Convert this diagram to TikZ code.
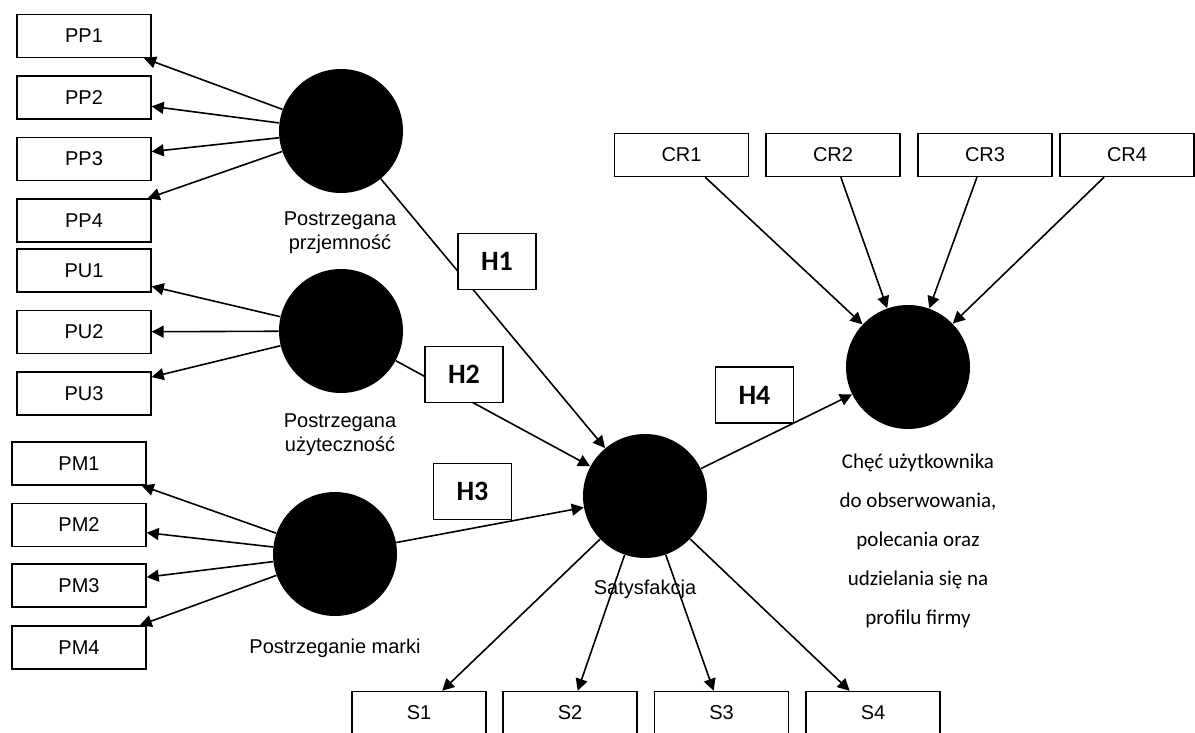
\documentclass[tikz,border=0pt]{standalone}
\usepackage{fontspec}
\setmainfont{Liberation Sans}
\newfontfamily\carlito{Carlito}
\usetikzlibrary{arrows.meta}

\begin{document}
\begin{tikzpicture}[x=0.5pt,y=-0.5pt,
    ind/.style={draw=black,line width=0.7pt,minimum width=67pt,minimum height=21.5pt,inner sep=0pt,font=\fontsize{10}{12}\selectfont},
    lat/.style={circle,fill=black,minimum size=62pt,inner sep=0pt},
    hyp/.style={draw=black,fill=white,line width=0.7pt,minimum width=39pt,minimum height=28pt,inner sep=0pt,font=\carlito\bfseries\fontsize{14}{16}\selectfont},
    lbl/.style={align=center,font=\fontsize{10}{12}\selectfont},
    arr/.style={line width=0.8pt,-{Triangle[length=6pt,width=6pt]}}]
      \useasboundingbox (0,0) rectangle (1195,733);

      % indicators
      \node[ind] (pp1) at (84,36){PP1};
      \node[ind] (pp2) at (84,97.5){PP2};
      \node[ind] (pp3) at (84,159){PP3};
      \node[ind] (pp4) at (84,220.5){PP4};
      \node[ind] (pu1) at (84,270.5){PU1};
      \node[ind] (pu2) at (84,332){PU2};
      \node[ind] (pu3) at (84,393.5){PU3};
      \node[ind] (pm1) at (79,463.5){PM1};
      \node[ind] (pm2) at (79,525){PM2};
      \node[ind] (pm3) at (79,585.5){PM3};
      \node[ind] (pm4) at (79,647.5){PM4};
      \node[ind] (cr1) at (681.5,155){CR1};
      \node[ind] (cr2) at (833,155){CR2};
      \node[ind] (cr3) at (985,155){CR3};
      \node[ind] (cr4) at (1127,155){CR4};
      \node[ind] (s1) at (419,713){S1};
      \node[ind] (s2) at (570,713){S2};
      \node[ind] (s3) at (721.5,713){S3};
      \node[ind] (s4) at (873,713){S4};

      % constructs
      \node[lat] (pp) at (341,131){};
      \node[lat] (pu) at (341,331){};
      \node[lat] (pm) at (335,554){};
      \node[lat] (sat) at (645,496){};
      \node[lat] (cr) at (908,367){};

      \node[lbl] (ppl) at (340,233){Postrzegana\\przjemność};
      \node[lbl] (pul) at (340,435){Postrzegana\\użyteczność};
      \node[lbl] (pml) at (335,648){Postrzeganie marki};
      \node[lbl] (satl) at (645,589){Satysfakcja};
      \node[align=center,font=\carlito\fontsize{10.5}{19.5}\selectfont] (crl) at (918,541){Chęć użytkownika\\do obserwowania,\\polecania oraz\\udzielania się na\\profilu firmy};

      \draw[arr] (pp) -- (pp1);
      \draw[arr] (pp) -- (pp2);
      \draw[arr] (pp) -- (pp3);
      \draw[arr] (pp) -- (pp4);
      \draw[arr] (pu) -- (pu1);
      \draw[arr] (pu) -- (pu2);
      \draw[arr] (pu) -- (pu3);
      \draw[arr] (pm) -- (pm1);
      \draw[arr] (pm) -- (pm2);
      \draw[arr] (pm) -- (pm3);
      \draw[arr] (pm) -- (pm4);
      \draw[arr] (sat) -- (s1);
      \draw[arr] (sat) -- (s2);
      \draw[arr] (sat) -- (s3);
      \draw[arr] (sat) -- (s4);
      \draw[arr] (cr1) -- (cr);
      \draw[arr] (cr2) -- (cr);
      \draw[arr] (cr3) -- (cr);
      \draw[arr] (cr4) -- (cr);

      \draw[arr] (pp) -- (sat);
      \draw[arr] (pu) -- (sat);
      \draw[arr] (pm) -- (sat);
      \draw[arr] (sat) -- (cr);

      % hypotheses
      \node[hyp] (h1) at (497,261.5){H1};
      \node[hyp] (h2) at (464,374.5){H2};
      \node[hyp] (h3) at (472.5,491.5){H3};
      \node[hyp] (h4) at (754.5,395){H4};
    \end{tikzpicture}
\end{document}
